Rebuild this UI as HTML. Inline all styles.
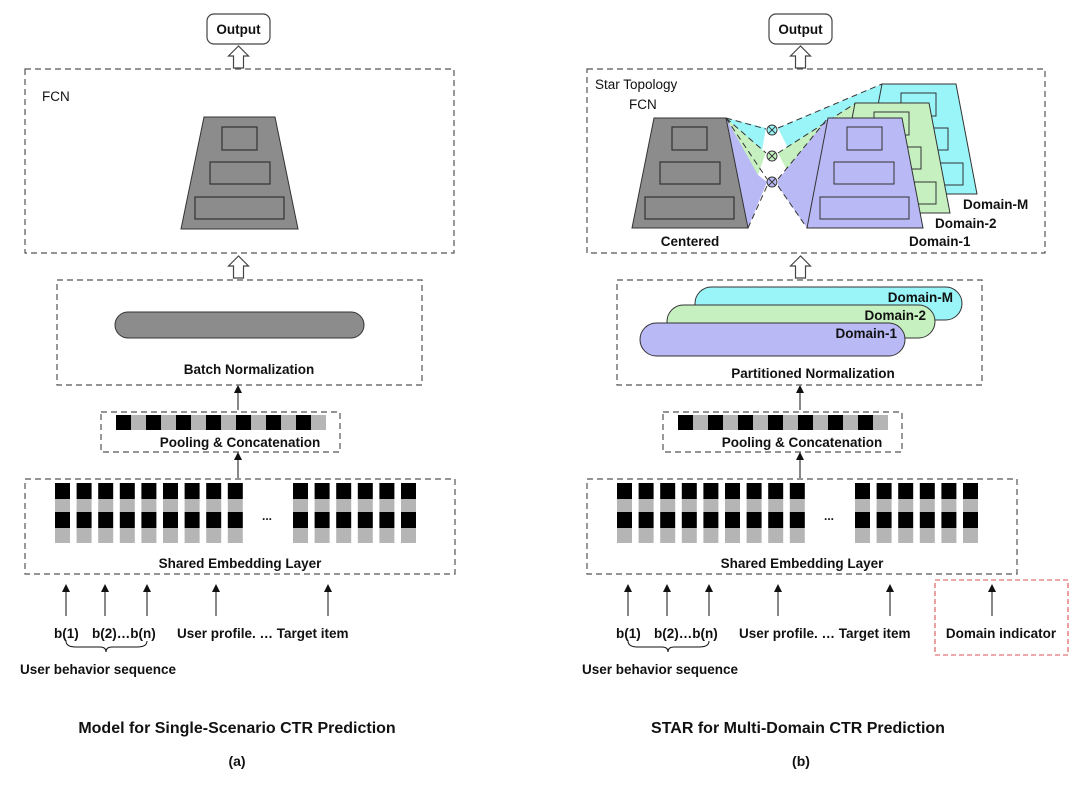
<!DOCTYPE html>
<html><head><meta charset="utf-8"><style>
html,body{margin:0;padding:0;background:#fff;}
svg{display:block;}
text{font-family:"Liberation Sans",Arial,sans-serif;font-weight:bold;fill:#111;}
</style></head><body>
<svg width="1080" height="792" viewBox="0 0 1080 792" xmlns="http://www.w3.org/2000/svg">
<defs>
<g id="col">
<rect x="0" y="483" width="15" height="16" fill="#000"/>
<rect x="0" y="499" width="15" height="13" fill="#b5b5b5"/>
<rect x="0" y="512" width="15" height="16" fill="#000"/>
<rect x="0" y="528" width="15" height="15" fill="#b5b5b5"/>
</g>
<g id="strip">
<rect x="0" y="415" width="210" height="15" fill="#b5b5b5"/>
<rect x="0" y="415" width="15" height="15" fill="#000"/>
<rect x="30" y="415" width="15" height="15" fill="#000"/>
<rect x="60" y="415" width="15" height="15" fill="#000"/>
<rect x="90" y="415" width="15" height="15" fill="#000"/>
<rect x="120" y="415" width="15" height="15" fill="#000"/>
<rect x="150" y="415" width="15" height="15" fill="#000"/>
<rect x="180" y="415" width="15" height="15" fill="#000"/>
</g>
<g id="harrow">
<polygon points="0,46 -10,56 -5,56 -5,68 5,68 5,56 10,56" fill="#fff" stroke="#444" stroke-width="1.2"/>
</g>
<marker id="ah" markerWidth="8" markerHeight="8" refX="4" refY="4" orient="auto" markerUnits="userSpaceOnUse">
<path d="M0,0 L8,4 L0,8 z" fill="#111"/>
</marker>
<g id="embed">
<rect x="25" y="479" width="430" height="95" fill="none" stroke="#555" stroke-dasharray="6,4" stroke-width="1.2"/>
<use href="#col" x="55"/><use href="#col" x="76.6"/><use href="#col" x="98.2"/><use href="#col" x="119.8"/><use href="#col" x="141.4"/><use href="#col" x="163"/><use href="#col" x="184.6"/><use href="#col" x="206.2"/><use href="#col" x="227.8"/>
<use href="#col" x="293"/><use href="#col" x="314.6"/><use href="#col" x="336.2"/><use href="#col" x="357.8"/><use href="#col" x="379.4"/><use href="#col" x="401"/>
<text x="267" y="520" font-size="12" text-anchor="middle">...</text>
<text x="240" y="568" font-size="13.5" text-anchor="middle">Shared Embedding Layer</text>
<rect x="101" y="412" width="239" height="40" fill="none" stroke="#555" stroke-dasharray="6,4" stroke-width="1.2"/>
<use href="#strip" x="116"/>
<text x="240" y="447" font-size="13.5" text-anchor="middle">Pooling &amp; Concatenation</text>
<line x1="238" y1="478" x2="238" y2="456" stroke="#111" stroke-width="1" marker-end="url(#ah)"/>
<line x1="238" y1="410" x2="238" y2="389" stroke="#111" stroke-width="1" marker-end="url(#ah)"/>
<line x1="66" y1="616" x2="66" y2="588" stroke="#111" stroke-width="1" marker-end="url(#ah)"/>
<line x1="105" y1="616" x2="105" y2="588" stroke="#111" stroke-width="1" marker-end="url(#ah)"/>
<line x1="147" y1="616" x2="147" y2="588" stroke="#111" stroke-width="1" marker-end="url(#ah)"/>
<line x1="216" y1="616" x2="216" y2="588" stroke="#111" stroke-width="1" marker-end="url(#ah)"/>
<line x1="328" y1="616" x2="328" y2="588" stroke="#111" stroke-width="1" marker-end="url(#ah)"/>
<text x="54" y="638" font-size="13.5">b(1)</text>
<text x="92" y="638" font-size="13.5">b(2)…b(n)</text>
<text x="177" y="638" font-size="13.5">User profile. … Target item</text>
<path d="M66,641 Q66,647 76,647 L100,647 Q106,647 106,652 Q106,647 112,647 L137,647 Q147,647 147,641" fill="none" stroke="#111" stroke-width="1"/>
<text x="20" y="674" font-size="13.5">User behavior sequence</text>
<rect x="207" y="14" width="63" height="30" rx="7" fill="#fff" stroke="#444" stroke-width="1.2"/>
<text x="238.5" y="34" font-size="13.5" text-anchor="middle">Output</text>
<use href="#harrow" x="238.5"/>
<use href="#harrow" x="238.5" y="210"/>
</g>
</defs>

<!-- LEFT PANEL -->
<use href="#embed"/>
<rect x="25" y="69" width="429" height="184" fill="none" stroke="#555" stroke-dasharray="6,4" stroke-width="1.2"/>
<text x="42" y="101" font-size="13.5" style="font-weight:normal">FCN</text>
<polygon points="204,117 275,117 298,229 181,229" fill="#8c8c8c" stroke="#333" stroke-width="1"/>
<rect x="222" y="127" width="35" height="23" fill="none" stroke="#333" stroke-width="1.2"/>
<rect x="210" y="162" width="60" height="22" fill="none" stroke="#333" stroke-width="1.2"/>
<rect x="195" y="197" width="89" height="22" fill="none" stroke="#333" stroke-width="1.2"/>
<rect x="57" y="280" width="365" height="105" fill="none" stroke="#555" stroke-dasharray="6,4" stroke-width="1.2"/>
<rect x="115" y="312" width="249" height="26" rx="13" fill="#8c8c8c" stroke="#333" stroke-width="1"/>
<text x="249" y="374" font-size="13.5" text-anchor="middle">Batch Normalization</text>
<text x="237" y="733" font-size="16" text-anchor="middle">Model for Single-Scenario CTR Prediction</text>
<text x="237" y="766" font-size="14" text-anchor="middle">(a)</text>

<!-- RIGHT PANEL -->
<use href="#embed" x="562"/>
<rect x="587" y="69" width="458" height="184" fill="none" stroke="#555" stroke-dasharray="6,4" stroke-width="1.2"/>
<text x="595" y="89" font-size="13.5" style="font-weight:normal">Star Topology</text>
<text x="629" y="109" font-size="13.5" style="font-weight:normal">FCN</text>

<!-- left fans -->
<polygon points="726,118 766,128 762,150 740,135" fill="#99f5f8"/>
<polygon points="726,118 762,150 766,152 758,175 735,145" fill="#c6f0c0"/>
<polygon points="726,118 758,175 767,182 748,228 735,170" fill="#b9b9f5"/>
<g fill="none" stroke="#333" stroke-dasharray="6,4" stroke-width="1">
<line x1="726" y1="118" x2="766" y2="129"/><line x1="726" y1="118" x2="766" y2="153"/><line x1="726" y1="118" x2="767" y2="179"/><line x1="748" y1="228" x2="767" y2="186"/>
</g>
<!-- right fans -->
<polygon points="778,128 882,84 885,150 788,148" fill="#99f5f8"/>
<polygon points="778,153 856,103 860,172 788,172" fill="#c6f0c0"/>
<polygon points="778,180 828,118 807,228 778,186" fill="#b9b9f5"/>
<g fill="none" stroke="#333" stroke-dasharray="6,4" stroke-width="1">
<line x1="778" y1="128" x2="882" y2="84"/><line x1="778" y1="153" x2="856" y2="103"/><line x1="778" y1="179" x2="828" y2="118"/><line x1="778" y1="186" x2="807" y2="228"/>
</g>
<!-- domain M -->
<g transform="translate(54,-34)">
<polygon points="828,118 902,118 923,228 807,228" fill="#99f5f8" stroke="#333" stroke-width="1"/>
<rect x="847" y="127" width="35" height="23" fill="none" stroke="#333"/><rect x="834" y="162" width="60" height="22" fill="none" stroke="#333"/><rect x="820" y="197" width="89" height="22" fill="none" stroke="#333"/>
</g>
<g transform="translate(27,-15)">
<polygon points="828,118 902,118 923,228 807,228" fill="#c6f0c0" stroke="#333" stroke-width="1"/>
<rect x="847" y="127" width="35" height="23" fill="none" stroke="#333"/><rect x="834" y="162" width="60" height="22" fill="none" stroke="#333"/><rect x="820" y="197" width="89" height="22" fill="none" stroke="#333"/>
</g>
<polygon points="828,118 902,118 923,228 807,228" fill="#b9b9f5" stroke="#333" stroke-width="1"/>
<rect x="847" y="127" width="35" height="23" fill="none" stroke="#333"/><rect x="834" y="162" width="60" height="22" fill="none" stroke="#333"/><rect x="820" y="197" width="89" height="22" fill="none" stroke="#333"/>
<!-- centered -->
<polygon points="654,118 726,118 748,228 632,228" fill="#8c8c8c" stroke="#333" stroke-width="1"/>
<rect x="672" y="127" width="35" height="23" fill="none" stroke="#333" stroke-width="1.2"/>
<rect x="660" y="162" width="60" height="22" fill="none" stroke="#333" stroke-width="1.2"/>
<rect x="645" y="197" width="89" height="22" fill="none" stroke="#333" stroke-width="1.2"/>
<!-- circles -->
<g stroke="#333" stroke-width="0.9">
<circle cx="772" cy="130" r="5" fill="#99f5f8"/><path d="M768.5,126.5 L775.5,133.5 M775.5,126.5 L768.5,133.5"/>
<circle cx="772" cy="156" r="5" fill="#c6f0c0"/><path d="M768.5,152.5 L775.5,159.5 M775.5,152.5 L768.5,159.5"/>
<circle cx="772" cy="182" r="5" fill="#b9b9f5"/><path d="M768.5,178.5 L775.5,185.5 M775.5,178.5 L768.5,185.5"/>
</g>
<text x="690" y="246" font-size="13.5" text-anchor="middle">Centered</text>
<text x="909" y="246" font-size="13.5">Domain-1</text>
<text x="935" y="228" font-size="13.5">Domain-2</text>
<text x="963" y="209" font-size="13.5">Domain-M</text>

<rect x="617" y="280" width="365" height="105" fill="none" stroke="#555" stroke-dasharray="6,4" stroke-width="1.2"/>
<rect x="695" y="287" width="267" height="33" rx="16.5" fill="#99f5f8" stroke="#333" stroke-width="1"/>
<rect x="667" y="305" width="268" height="33" rx="16.5" fill="#c6f0c0" stroke="#333" stroke-width="1"/>
<rect x="640" y="323" width="265" height="33" rx="16.5" fill="#b9b9f5" stroke="#333" stroke-width="1"/>
<text x="953" y="302" font-size="13.5" text-anchor="end">Domain-M</text>
<text x="926" y="320" font-size="13.5" text-anchor="end">Domain-2</text>
<text x="897" y="338" font-size="13.5" text-anchor="end">Domain-1</text>
<text x="813" y="378" font-size="13.5" text-anchor="middle">Partitioned Normalization</text>

<rect x="935" y="580" width="133" height="75" fill="none" stroke="#d9534f" stroke-dasharray="5,3" stroke-width="1.1"/>
<line x1="992" y1="616" x2="992" y2="588" stroke="#111" stroke-width="1" marker-end="url(#ah)"/>
<text x="1001" y="638" font-size="13.5" text-anchor="middle">Domain indicator</text>

<text x="798" y="733" font-size="16" text-anchor="middle">STAR for Multi-Domain CTR Prediction</text>
<text x="801" y="766" font-size="14" text-anchor="middle">(b)</text>
</svg>
</body></html>
